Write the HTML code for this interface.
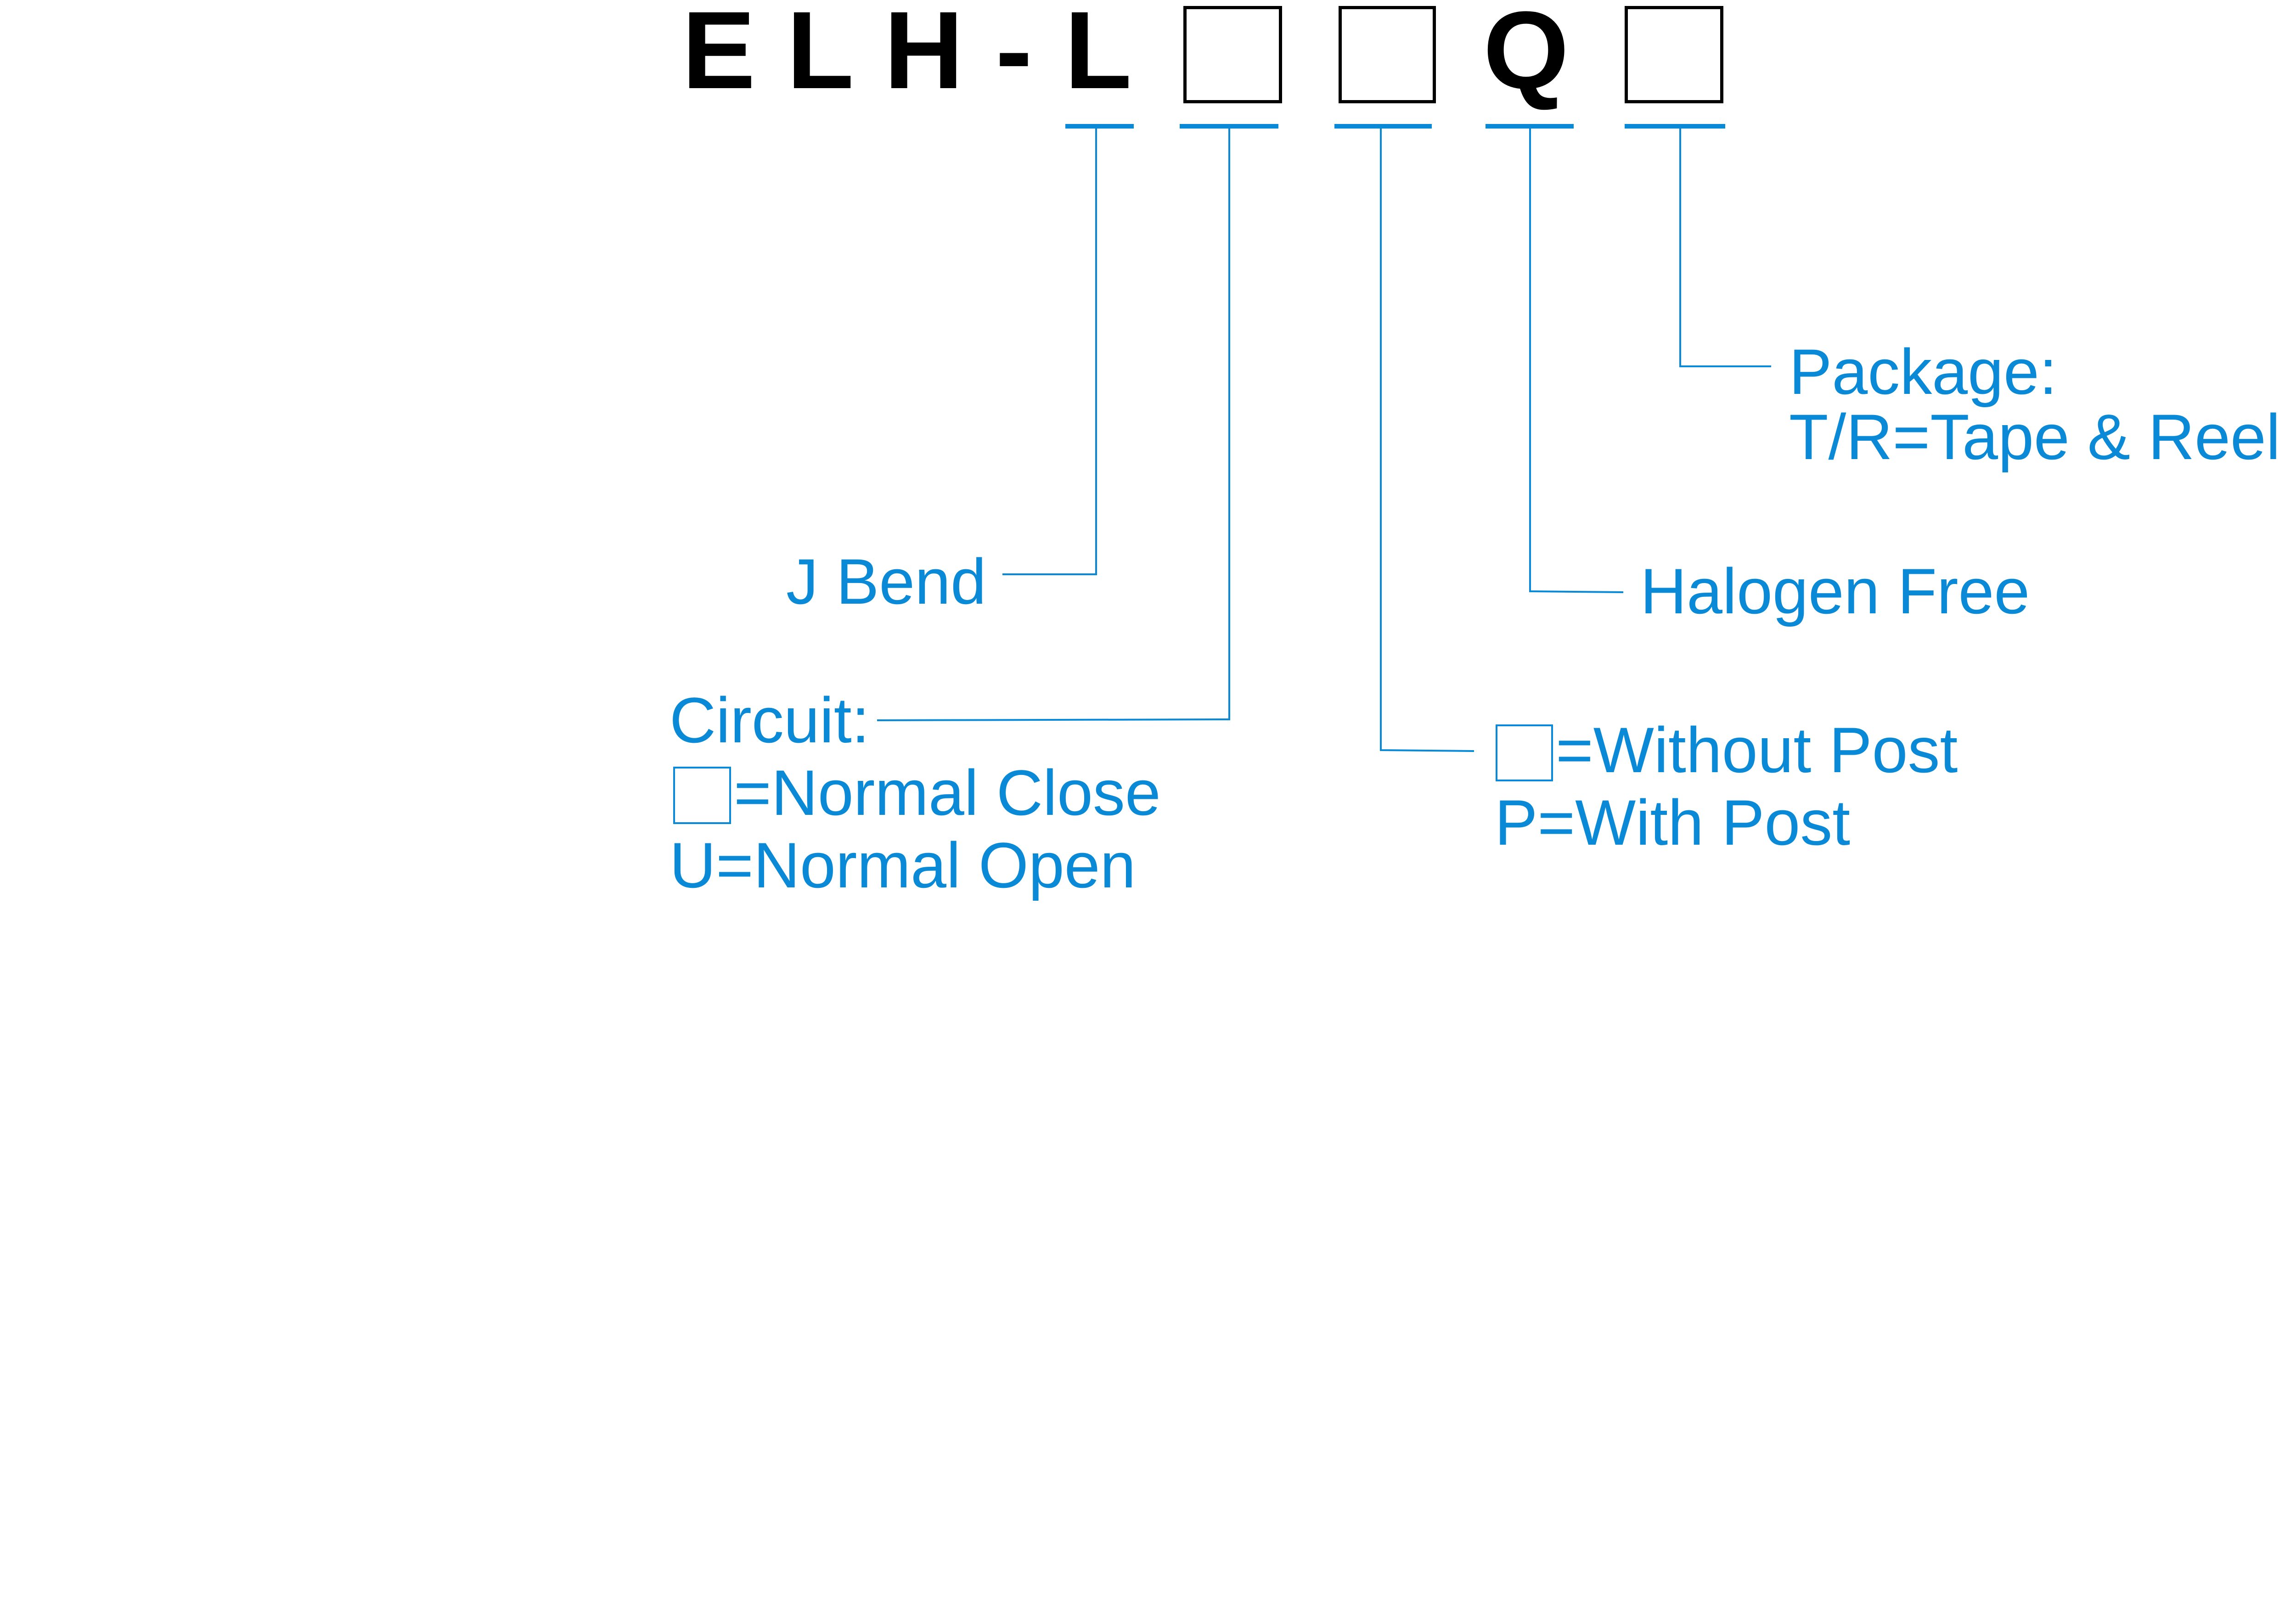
<!DOCTYPE html>
<html><head><meta charset="utf-8"><style>
html,body{margin:0;padding:0;background:#fff;width:5251px;height:3507px;overflow:hidden}
svg{display:block}
</style></head><body>
<svg width="5251" height="3507" viewBox="0 0 5251 3507" xmlns="http://www.w3.org/2000/svg">
<rect width="5251" height="3507" fill="#fff"/>
<g font-family="Liberation Sans, Arial, sans-serif" font-weight="bold" font-size="240" fill="#000">
<text x="1485" y="192">E</text>
<text x="1713" y="192">L</text>
<text x="1925" y="192">H</text>
<text x="2168" y="192">-</text>
<text x="2318" y="192">L</text>
<text x="3230" y="192">Q</text>
</g>
<g fill="none" stroke="#000" stroke-width="7">
<rect x="2580.5" y="16.5" width="208" height="205"/>
<rect x="2918.5" y="16.5" width="205" height="205"/>
<rect x="3541.5" y="16.5" width="208" height="205"/>
</g>
<g fill="#0a8ad6">
<rect x="2320" y="270" width="149" height="10"/>
<rect x="2569" y="270" width="215" height="10"/>
<rect x="2906" y="270" width="212" height="10"/>
<rect x="3235" y="270" width="192" height="10"/>
<rect x="3538" y="270" width="219" height="10"/>
</g>
<g fill="none" stroke="#0a8ad6" stroke-width="4">
<polyline points="2387,280 2387,1251 2183,1251"/>
<polyline points="2677,280 2677,1567 1910,1569"/>
<polyline points="3007,280 3007,1634 3210,1636"/>
<polyline points="3332,280 3332,1288 3535,1290"/>
<polyline points="3659,280 3659,798 3857,798"/>
<rect x="1468" y="1672" width="122" height="121"/>
<rect x="3259" y="1580" width="121" height="120"/>
</g>
<g font-family="Liberation Sans, Arial, sans-serif" font-size="140" fill="#0a8ad6">
<text x="1712" y="1315">J Bend</text>
<text x="1458" y="1617">Circuit:</text>
<text x="1598" y="1775">=Normal Close</text>
<text x="1458" y="1933">U=Normal Open</text>
<text x="3388" y="1682">=Without Post</text>
<text x="3255" y="1840">P=With Post</text>
<text x="3572" y="1336">Halogen Free</text>
<text x="3896" y="858">Package:</text>
<text x="3896" y="1000">T/R=Tape &amp; Reel</text>
</g>
</svg>
</body></html>
